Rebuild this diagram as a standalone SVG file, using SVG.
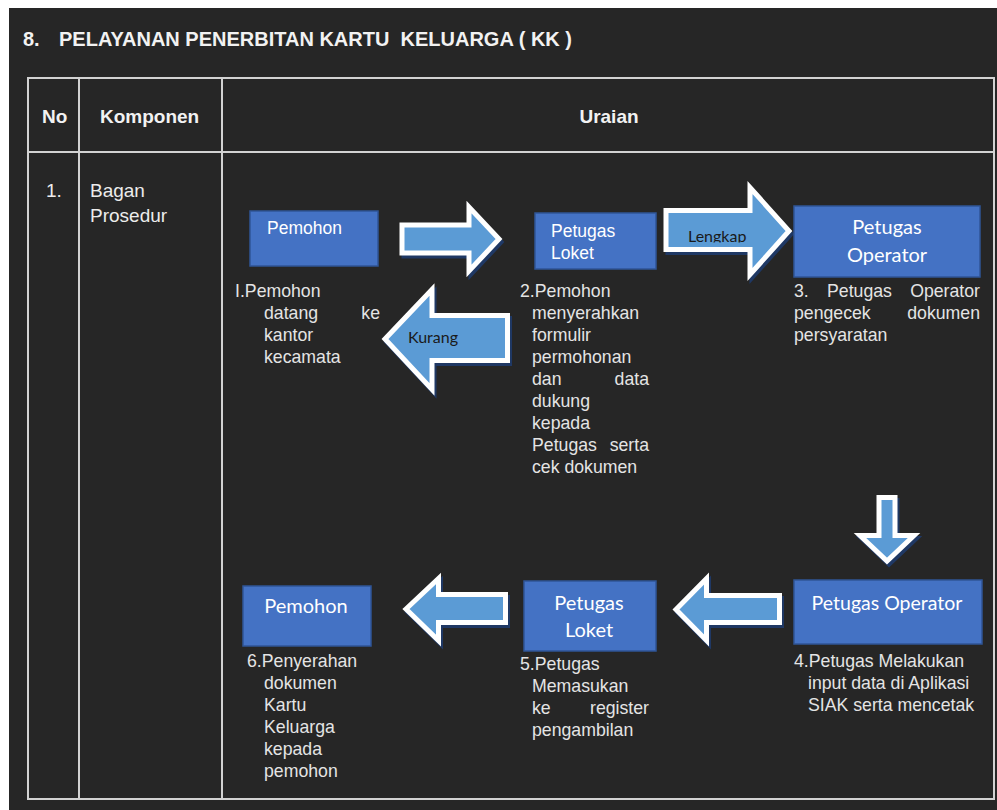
<svg xmlns="http://www.w3.org/2000/svg" xmlns:xlink="http://www.w3.org/1999/xlink" width="997" height="810" viewBox="0 0 997 810">
<style>
.bg{fill:#262626}
.grid{fill:none;stroke:#d2d2d2;stroke-width:2}
.title{font-family:"Liberation Sans",Arial,sans-serif;font-weight:bold;font-size:20px;fill:#f2f2f2;white-space:pre}
.hdr{font-family:"Liberation Sans",Arial,sans-serif;font-weight:bold;font-size:19px;fill:#f2f2f2}
.cell{font-family:"Liberation Sans",Arial,sans-serif;font-size:19px;fill:#ececec}
.desc{font-family:"Liberation Sans",Arial,sans-serif;font-size:17.7px;fill:#e4e4e4}
.box{fill:#4472c4;stroke:#2f5597;stroke-width:1.5}
.lbA{font-family:"Liberation Sans",Arial,sans-serif;font-size:17.5px;fill:#ffffff}
.lbC{font-family:Lato,"Open Sans",sans-serif;font-size:20px;fill:#ffffff}
.arr{fill:#5b9bd5;stroke:#ffffff;stroke-width:5;stroke-linejoin:miter}
.shd{fill:#1f3864;stroke:#1f3864;stroke-width:5;stroke-linejoin:miter}
.alb{font-family:Lato,"Open Sans",sans-serif;font-size:16px;fill:#1a1a1a}
</style>
<defs>
<path id="a1" d="M402,225 H469 V207 L499,239 L469,271 V253 H402 Z"/>
<path id="a2" d="M666,210.5 H750 V187.5 L789,231 L750,274.5 V249.5 H666 Z"/>
<path id="a3" d="M385,339 L432,289.5 V315.5 H507.5 V360.5 H432 V389.5 Z"/>
<path id="a4" d="M879,497.5 H895 V535.5 H914 L887,561 L860,535.5 H879 Z"/>
<path id="a5" d="M676,609.5 L706.5,578.5 V595.5 H779.5 V622.5 H706.5 V640.5 Z"/>
<path id="a6" d="M406,609 L438.5,578.5 V594.5 H505.5 V622.5 H438.5 V640.5 Z"/>
<clipPath id="clipL"><rect x="664" y="200" width="100" height="42.5"/></clipPath>
</defs>
<rect class="bg" x="9" y="8" width="988" height="802"/>
<text class="title" x="23" y="46" xml:space="preserve">8.<tspan x="59">PELAYANAN PENERBITAN KARTU  KELUARGA ( KK )</tspan></text>
<g id="table">
<rect class="grid" x="28" y="78" width="966" height="721"/>
<line class="grid" x1="79" y1="78" x2="79" y2="799"/>
<line class="grid" x1="222" y1="78" x2="222" y2="799"/>
<line class="grid" x1="28" y1="152" x2="994" y2="152"/>
<text class="hdr" x="42" y="123">No</text>
<text class="hdr" x="100" y="123">Komponen</text>
<text class="hdr" x="609" y="123" text-anchor="middle">Uraian</text>
<text class="cell" x="46" y="197">1.</text>
<text class="cell" x="90" y="197">Bagan</text>
<text class="cell" x="90" y="222">Prosedur</text>
</g>
<g id="connectors">
<g id="arrow-1"><use xlink:href="#a1" class="shd" transform="translate(2,3)"/><use xlink:href="#a1" class="arr"/></g>
<g id="arrow-lengkap"><use xlink:href="#a2" class="shd" transform="translate(2,3)"/><use xlink:href="#a2" class="arr"/><text class="alb" x="688" y="242" clip-path="url(#clipL)">Lengkap</text></g>
<g id="arrow-kurang"><use xlink:href="#a3" class="shd" transform="translate(2,3)"/><use xlink:href="#a3" class="arr"/><text class="alb" x="408" y="343">Kurang</text></g>
<g id="arrow-down"><use xlink:href="#a4" class="shd" transform="translate(2,3)"/><use xlink:href="#a4" class="arr"/></g>
<g id="arrow-5"><use xlink:href="#a5" class="shd" transform="translate(2,3)"/><use xlink:href="#a5" class="arr"/></g>
<g id="arrow-6"><use xlink:href="#a6" class="shd" transform="translate(2,3)"/><use xlink:href="#a6" class="arr"/></g>
</g>
<g id="node-pemohon-1">
<rect class="box" x="250" y="211" width="128" height="55"/>
<text class="lbA" x="267" y="234">Pemohon</text>
<text class="desc" x="235" y="297">I.Pemohon</text>
<text class="desc" x="264" y="319">datang</text>
<text class="desc" x="380" y="319" text-anchor="end">ke</text>
<text class="desc" x="264" y="341">kantor</text>
<text class="desc" x="264" y="363">kecamata</text>
</g>
<g id="node-loket-1">
<rect class="box" x="535" y="213" width="121" height="56"/>
<text class="lbA" x="551" y="237">Petugas</text>
<text class="lbA" x="551" y="259">Loket</text>
<text class="desc" x="520" y="297">2.Pemohon</text>
<text class="desc" x="532" y="319">menyerahkan</text>
<text class="desc" x="532" y="341">formulir</text>
<text class="desc" x="532" y="363">permohonan</text>
<text class="desc" x="532" y="385">dan</text>
<text class="desc" x="649" y="385" text-anchor="end">data</text>
<text class="desc" x="532" y="407">dukung</text>
<text class="desc" x="532" y="429">kepada</text>
<text class="desc" x="532" y="451">Petugas</text>
<text class="desc" x="649" y="451" text-anchor="end">serta</text>
<text class="desc" x="532" y="473">cek dokumen</text>
</g>
<g id="node-operator-1">
<rect class="box" x="794" y="206" width="186" height="71"/>
<text class="lbC" x="887" y="234" text-anchor="middle">Petugas</text>
<text class="lbC" x="887" y="262" text-anchor="middle">Operator</text>
<text class="desc" x="794" y="297">3.</text>
<text class="desc" x="827" y="297">Petugas</text>
<text class="desc" x="980" y="297" text-anchor="end">Operator</text>
<text class="desc" x="794" y="319">pengecek</text>
<text class="desc" x="980" y="319" text-anchor="end">dokumen</text>
<text class="desc" x="794" y="341">persyaratan</text>
</g>
<g id="node-operator-2">
<rect class="box" x="794" y="580" width="188" height="64"/>
<text class="lbC" x="887" y="610" text-anchor="middle" style="font-size:19.5px">Petugas Operator</text>
<text class="desc" x="794" y="667">4.Petugas Melakukan</text>
<text class="desc" x="808" y="689">input data di Aplikasi</text>
<text class="desc" x="808" y="711">SIAK serta mencetak</text>
</g>
<g id="node-loket-2">
<rect class="box" x="524" y="581" width="132" height="70"/>
<text class="lbC" x="589" y="610" text-anchor="middle">Petugas</text>
<text class="lbC" x="589" y="637" text-anchor="middle">Loket</text>
<text class="desc" x="520" y="670">5.Petugas</text>
<text class="desc" x="532" y="692">Memasukan</text>
<text class="desc" x="532" y="714">ke</text>
<text class="desc" x="649" y="714" text-anchor="end">register</text>
<text class="desc" x="532" y="736">pengambilan</text>
</g>
<g id="node-pemohon-2">
<rect class="box" x="243" y="586" width="128" height="60"/>
<text class="lbC" x="306" y="613" text-anchor="middle">Pemohon</text>
<text class="desc" x="247" y="667">6.Penyerahan</text>
<text class="desc" x="264" y="689">dokumen</text>
<text class="desc" x="264" y="711">Kartu</text>
<text class="desc" x="264" y="733">Keluarga</text>
<text class="desc" x="264" y="755">kepada</text>
<text class="desc" x="264" y="777">pemohon</text>
</g>
</svg>
